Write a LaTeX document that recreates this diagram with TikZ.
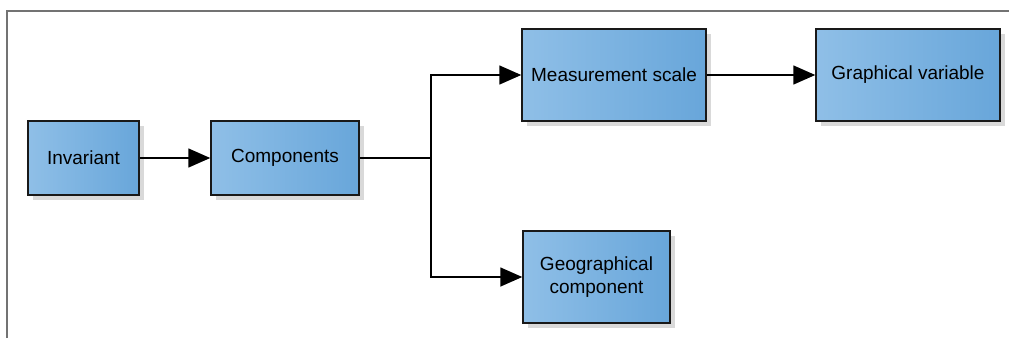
\documentclass[tikz,border=0pt]{standalone}
\usepackage{fontspec}
\setmainfont{Liberation Sans}
\usetikzlibrary{arrows.meta,shadows}
\definecolor{boxL}{RGB}{143,191,231}
\definecolor{boxR}{RGB}{104,166,218}
\definecolor{shadowc}{RGB}{217,217,217}
\definecolor{framec}{RGB}{115,115,115}
\tikzset{
  box/.style={draw=black!90, line width=1.5pt, left color=boxL, right color=boxR,
    inner sep=0pt, align=center, font=\fontsize{19}{23}\selectfont,
    drop shadow={shadow xshift=5pt, shadow yshift=-5pt, fill=shadowc, opacity=1}},
  conn/.style={line width=1.6pt, -{Triangle[length=22pt,width=19pt]}},
  plain/.style={line width=1.6pt}
}
\begin{document}
\begin{tikzpicture}[x=1pt,y=-1pt]
\useasboundingbox (0,0) rectangle (1009,338);
\draw[framec, line width=1.2pt] (7,338) -- (7,11) -- (1009,11);
\node[box, minimum width=111pt, minimum height=74pt] (inv) at (83.5,158) {Invariant};
\node[box, minimum width=148pt, minimum height=74pt] (comp) at (285,158) {Components};
\node[box, minimum width=184pt, minimum height=92pt] (meas) at (614,75) {Measurement scale};
\node[box, minimum width=184pt, minimum height=92pt] (gvar) at (908,75) {Graphical variable};
\node[box, minimum width=147pt, minimum height=92pt] (geo) at (596.5,277) {Geographical\\component};
\coordinate (br) at (431,158);
\draw[conn] (inv.east) -- (comp.west);
\draw[plain] (comp.east) -- (br);
\draw[conn] (br) |- (meas.west);
\draw[conn] (br) |- (geo.west);
\draw[conn] (meas.east) -- (gvar.west);
\end{tikzpicture}
\end{document}
